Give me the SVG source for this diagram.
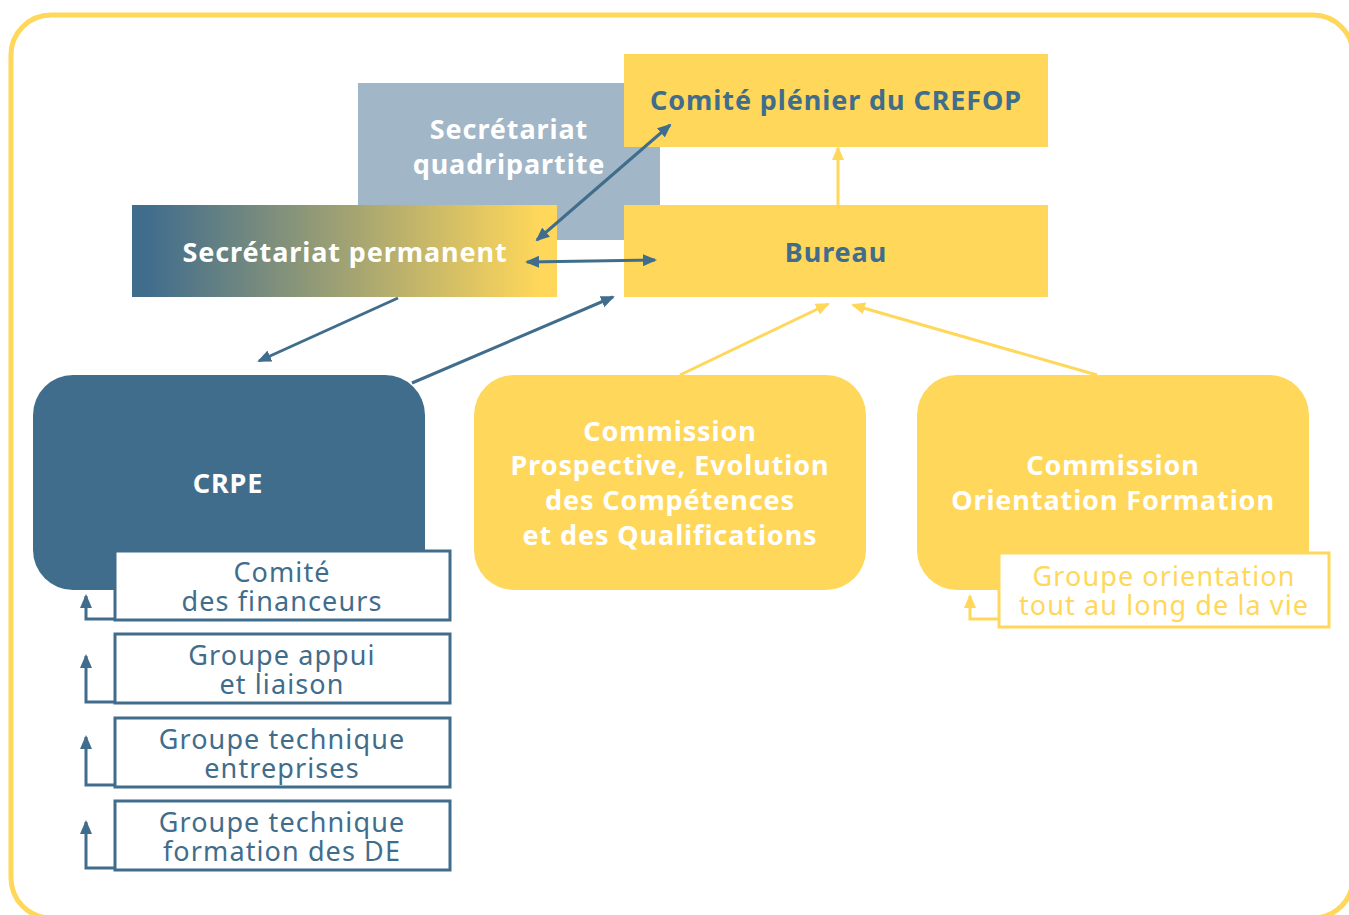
<svg xmlns="http://www.w3.org/2000/svg" width="1349" height="915" viewBox="0 0 1349 915">
<defs>
<style>
.t{font-family:"Noto Sans","Liberation Sans",sans-serif;text-anchor:middle}
.b{font-weight:bold;font-size:27px;letter-spacing:0.9px}
.w{fill:#ffffff}
.d{fill:#416D8C}
.y{fill:#FFD75A}
.s{font-size:27px;font-weight:normal;letter-spacing:1.1px}
.sub{fill:#ffffff;stroke:#416D8C;stroke-width:3}
.suby{fill:#ffffff;stroke:#FFD75A;stroke-width:3}
.cb{stroke:#416D8C;stroke-width:3;fill:none}
.cy{stroke:#FFD75A;stroke-width:3;fill:none}
</style>
<linearGradient id="g" x1="0" y1="0" x2="1" y2="0">
<stop offset="0.04" stop-color="#416D8C"/>
<stop offset="0.96" stop-color="#FFD75A"/>
</linearGradient>
<marker id="ab" viewBox="0 0 14 12" refX="12" refY="6" markerWidth="14" markerHeight="12" orient="auto-start-reverse" markerUnits="userSpaceOnUse"><path d="M0,0 L14,6 L0,12 z" fill="#416D8C"/></marker>
<marker id="ay" viewBox="0 0 14 12" refX="12" refY="6" markerWidth="14" markerHeight="12" orient="auto-start-reverse" markerUnits="userSpaceOnUse"><path d="M0,0 L14,6 L0,12 z" fill="#FFD75A"/></marker>
</defs>
<rect x="11" y="15" width="1342" height="903" rx="40" fill="#ffffff" stroke="#FFD75A" stroke-width="5"/>

<g id="sec-quadri">
<rect x="358" y="83" width="302" height="157" fill="#A1B6C6"/>
<text class="t b w" x="509" y="139">Secrétariat</text>
<text class="t b w" x="509" y="174">quadripartite</text>
</g>
<g id="comite-plenier">
<rect x="624" y="54" width="424" height="93" fill="#FFD75A"/>
<text class="t b d" x="836" y="110">Comité plénier du CREFOP</text>
</g>
<g id="sec-permanent">
<rect x="132" y="205" width="425" height="92" fill="url(#g)"/>
<text class="t b w" x="345" y="262">Secrétariat permanent</text>
</g>
<g id="bureau">
<rect x="624" y="205" width="424" height="92" fill="#FFD75A"/>
<text class="t b d" x="836" y="262">Bureau</text>
</g>
<g id="crpe">
<rect x="33" y="375" width="392" height="215" rx="40" fill="#416D8C"/>
<text class="t b w" x="228" y="493">CRPE</text>
</g>
<g id="commission-prospective">
<rect x="474" y="375" width="392" height="215" rx="40" fill="#FFD75A"/>
<text class="t b w" x="670" y="441">Commission</text>
<text class="t b w" x="670" y="475">Prospective, Evolution</text>
<text class="t b w" x="670" y="510">des Compétences</text>
<text class="t b w" x="670" y="545">et des Qualifications</text>
</g>
<g id="commission-orientation">
<rect x="917" y="375" width="392" height="215" rx="40" fill="#FFD75A"/>
<text class="t b w" x="1113" y="475">Commission</text>
<text class="t b w" x="1113" y="510">Orientation Formation</text>
</g>
<g id="comite-financeurs">
<rect class="sub" x="115" y="551" width="335" height="69"/>
<text class="t s d" x="282" y="582">Comité</text>
<text class="t s d" x="282" y="611">des financeurs</text>
</g>
<g id="groupe-appui">
<rect class="sub" x="115" y="634" width="335" height="69"/>
<text class="t s d" x="282" y="665">Groupe appui</text>
<text class="t s d" x="282" y="694">et liaison</text>
</g>
<g id="groupe-entreprises">
<rect class="sub" x="115" y="718" width="335" height="69"/>
<text class="t s d" x="282" y="749">Groupe technique</text>
<text class="t s d" x="282" y="778">entreprises</text>
</g>
<g id="groupe-de">
<rect class="sub" x="115" y="801" width="335" height="69"/>
<text class="t s d" x="282" y="832">Groupe technique</text>
<text class="t s d" x="282" y="861">formation des DE</text>
</g>
<g id="groupe-orientation">
<rect class="suby" x="999" y="553" width="330" height="74"/>
<text class="t s y" x="1164" y="586">Groupe orientation</text>
<text class="t s y" x="1164" y="615">tout au long de la vie</text>
</g>

<g id="connectors">
<line class="cy" x1="838" y1="205" x2="838" y2="148" marker-end="url(#ay)"/>
<line class="cb" x1="537" y1="240" x2="670" y2="125" marker-start="url(#ab)" marker-end="url(#ab)"/>
<line class="cb" x1="527" y1="262" x2="655" y2="260" marker-start="url(#ab)" marker-end="url(#ab)"/>
<line class="cb" x1="398" y1="298" x2="259" y2="361" marker-end="url(#ab)"/>
<line class="cb" x1="412" y1="383" x2="613" y2="297" marker-end="url(#ab)"/>
<line class="cy" x1="680" y1="375" x2="828" y2="304" marker-end="url(#ay)"/>
<line class="cy" x1="1097" y1="375" x2="853" y2="305" marker-end="url(#ay)"/>
<polyline class="cb" points="115,619 86,619 86,596" marker-end="url(#ab)"/>
<polyline class="cb" points="115,702 86,702 86,656" marker-end="url(#ab)"/>
<polyline class="cb" points="115,785 86,785 86,737" marker-end="url(#ab)"/>
<polyline class="cb" points="115,868 86,868 86,822" marker-end="url(#ab)"/>
<polyline class="cy" points="999,619 970,619 970,596" marker-end="url(#ay)"/>
</g>
</svg>
